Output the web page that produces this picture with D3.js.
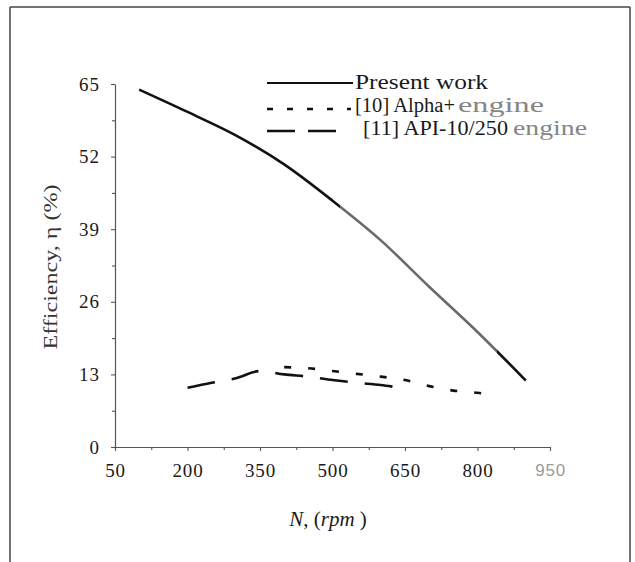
<!DOCTYPE html>
<html>
<head>
<meta charset="utf-8">
<script src="https://cdn.jsdelivr.net/npm/d3@7"></script>
<style>
  html, body { margin: 0; padding: 0; background: #fff; }
  svg { display: block; }
</style>
</head>
<body>
<div id="chart"></div>
<script>
// Engine speed (rpm) vs. efficiency (%)
const xTicks = [50, 200, 350, 500, 650, 800, 950];
const yTicks = [0, 13, 26, 39, 52, 65];

const rpmPresent = [100, 200, 300, 400, 500, 600, 700, 800, 900];
const effPresent = [64.0, 60.0, 55.8, 50.6, 44.1, 37.0, 28.7, 20.6, 11.9];

const rpmAlpha = [400, 450, 500, 550, 600, 650, 700, 750, 800, 820];
const effAlpha = [14.3, 14.1, 13.6, 13.1, 12.6, 12.0, 10.9, 10.1, 9.7, 9.5];

const rpmApi = [200, 250, 300, 350, 400, 450, 500, 550, 600, 625];
const effApi = [10.6, 11.5, 12.3, 13.6, 13.0, 12.6, 12.0, 11.5, 11.1, 10.8];

const legendLabels = ["Present work", "[10] Alpha+", "[11] API-10/250"];
const legendSuffix = ["", "engine", "engine"];

const W = 635, H = 562;
const serif = "'Liberation Serif', 'Times New Roman', serif";

const svg = d3.select("#chart").append("svg")
  .attr("width", W).attr("height", H);

svg.append("rect").attr("width", W).attr("height", H).attr("fill", "#fff");

// outer frame of the figure panel
const frame = svg.append("g").attr("stroke", "#444").attr("stroke-width", 1.5).attr("fill", "none");
frame.append("line").attr("x1", 10).attr("x2", 630).attr("y1", 7).attr("y2", 7);
frame.append("line").attr("x1", 10).attr("x2", 10).attr("y1", 7).attr("y2", H);
frame.append("line").attr("x1", 630).attr("x2", 630).attr("y1", 7).attr("y2", H);

const x = d3.scaleLinear().domain([50, 950]).range([115, 550]);
const y = d3.scaleLinear().domain([0, 65]).range([447, 84]);

// minor ticks halfway between labelled ticks
const xMinor = d3.pairs(xTicks).map(([a, b]) => (a + b) / 2);
const yMinor = d3.pairs(yTicks).map(([a, b]) => (a + b) / 2);

function styleAxis(g) {
  g.select(".domain").attr("stroke", "#555").attr("stroke-width", 1.2);
  g.selectAll(".tick line").attr("stroke", "#555").attr("stroke-width", 1.1);
}

// x axis
const gx = svg.append("g").attr("transform", `translate(0,${y(0)})`)
  .call(d3.axisBottom(x).tickValues(xTicks).tickSize(4).tickSizeOuter(0).tickPadding(20))
  .call(styleAxis);
gx.selectAll(".tick text")
  .attr("font-family", serif).attr("font-size", 19).attr("fill", "#1a1a1a")
  .attr("letter-spacing", 0.8)
  .attr("dy", "0.32em");
gx.selectAll(".tick text").filter(d => d === 950)
  .attr("font-family", "'Liberation Sans', Arial, sans-serif")
  .attr("font-size", 17).attr("fill", "#9a9a9a");
svg.append("g").attr("transform", `translate(0,${y(0)})`)
  .call(d3.axisBottom(x).tickValues(xMinor).tickSize(3).tickFormat(""))
  .call(g => g.select(".domain").remove())
  .call(styleAxis);

// y axis
const gy = svg.append("g").attr("transform", `translate(${x(50)},0)`)
  .call(d3.axisLeft(y).tickValues(yTicks).tickSize(4).tickSizeOuter(0).tickPadding(11))
  .call(styleAxis);
gy.selectAll(".tick text")
  .attr("font-family", serif).attr("font-size", 19).attr("fill", "#1a1a1a")
  .attr("letter-spacing", 1);
svg.append("g").attr("transform", `translate(${x(50)},0)`)
  .call(d3.axisLeft(y).tickValues(yMinor).tickSize(3).tickFormat(""))
  .call(g => g.select(".domain").remove())
  .call(styleAxis);

// axis titles
const xt = svg.append("text")
  .attr("x", 328).attr("y", 526)
  .attr("text-anchor", "middle")
  .attr("font-family", serif).attr("font-size", 21).attr("font-style", "italic")
  .attr("fill", "#1a1a1a");
xt.append("tspan").text("N");
xt.append("tspan").attr("font-style", "normal").text(", (");
xt.append("tspan").text("rpm");
xt.append("tspan").attr("font-style", "normal").text(" )");

svg.append("text")
  .attr("transform", "translate(57,267) rotate(-90)")
  .attr("text-anchor", "middle")
  .attr("font-family", serif).attr("font-size", 18)
  .attr("fill", "#333")
  .attr("textLength", 165).attr("lengthAdjust", "spacingAndGlyphs")
  .text("Efficiency, \u03b7 (%)");

// series
const line = d3.line().x(d => x(d[0])).y(d => y(d[1])).curve(d3.curveMonotoneX);

// the middle stretch of the model curve prints lighter than its ends
const grad = svg.append("defs").append("linearGradient")
  .attr("id", "presentStroke").attr("gradientUnits", "userSpaceOnUse")
  .attr("x1", x(50)).attr("x2", x(950)).attr("y1", 0).attr("y2", 0);
const f = v => (x(v) - x(50)) / (x(950) - x(50));
[[0, "#111"], [f(515), "#111"], [f(515), "#6a6a6a"], [f(840), "#6a6a6a"], [f(840), "#111"], [1, "#111"]]
  .forEach(([o, c]) => grad.append("stop").attr("offset", o).attr("stop-color", c));

svg.append("path")
  .datum(d3.zip(rpmPresent, effPresent))
  .attr("d", line).attr("fill", "none")
  .attr("stroke", "url(#presentStroke)").attr("stroke-width", 2.6);

svg.append("path")
  .datum(d3.zip(rpmAlpha, effAlpha))
  .attr("d", line).attr("fill", "none")
  .attr("stroke", "#111").attr("stroke-width", 2.6)
  .attr("stroke-dasharray", "7,17");

svg.append("path")
  .datum(d3.zip(rpmApi, effApi))
  .attr("d", line).attr("fill", "none")
  .attr("stroke", "#111").attr("stroke-width", 2.6)
  .attr("stroke-dasharray", "28,17");

// legend
const legend = [
  { y: 83, dash: null, x2: 353, tx: 355, ty: 89, len: 133, sx: 0, slen: 0 },
  { y: 109, dash: "6,14", x2: 351, tx: 355, ty: 112, len: 100, sx: 458, slen: 86 },
  { y: 131, dash: "28,13", x2: 337, tx: 363, ty: 135, len: 145, sx: 513, slen: 74 }
];
const lg = svg.append("g");
legend.forEach((L, i) => {
  lg.append("line")
    .attr("x1", 267).attr("x2", L.x2)
    .attr("y1", L.y).attr("y2", L.y)
    .attr("stroke", "#111").attr("stroke-width", i === 0 ? 2 : 2.6)
    .attr("stroke-dasharray", L.dash);
  lg.append("text")
    .attr("x", L.tx).attr("y", L.ty)
    .attr("font-family", serif).attr("font-size", 20).attr("fill", "#1a1a1a")
    .attr("textLength", L.len).attr("lengthAdjust", "spacingAndGlyphs")
    .text(legendLabels[i]);
  if (legendSuffix[i]) {
    lg.append("text")
      .attr("x", L.sx).attr("y", L.ty)
      .attr("font-family", serif).attr("font-size", 22).attr("fill", "#858585")
      .attr("textLength", L.slen).attr("lengthAdjust", "spacingAndGlyphs")
      .text(legendSuffix[i]);
  }
});
</script>
</body>
</html>
